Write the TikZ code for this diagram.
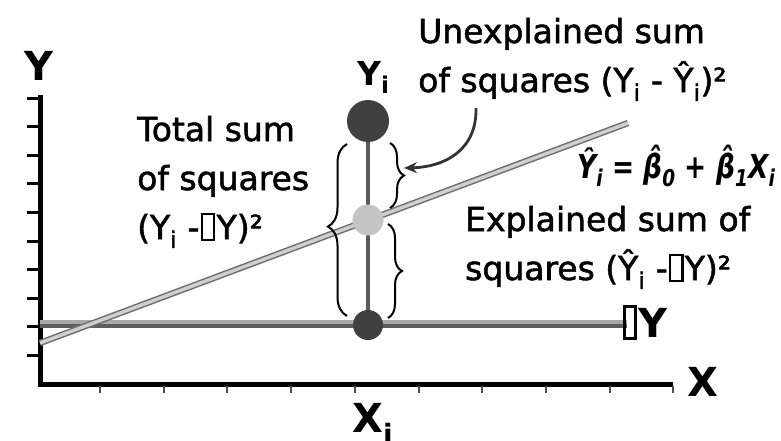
\documentclass[tikz,border=0pt]{standalone}
\usepackage{fontspec}
\usepackage{graphicx}
\setmainfont{DejaVu Sans}
\newfontfamily\bodyfont{DejaVu Sans}[FakeBold=1.6]
\usetikzlibrary{decorations.pathreplacing,arrows.meta}
\definecolor{dotdark}{HTML}{404040}
\definecolor{dotlight}{HTML}{C4C4C4}
\definecolor{stem}{HTML}{5A5A5A}
\definecolor{meanlight}{HTML}{A8A8A8}
\definecolor{meandark}{HTML}{5E5E5E}
\definecolor{regedge}{HTML}{6E6E6E}
\definecolor{regfill}{HTML}{CFCFCF}
\definecolor{arrowcol}{HTML}{333333}
\newcommand\nobox[1][0.3em]{\kern0.04em{\setlength{\fboxsep}{0pt}\setlength{\fboxrule}{0.07em}\fbox{\rule{0pt}{0.72em}\rule{#1}{0pt}}}\kern0.04em}
\begin{document}
\begin{tikzpicture}[x=1pt,y=-1pt,
  body/.style={font=\bodyfont\fontsize{33}{49}\selectfont, align=left, inner sep=0pt, anchor=base west},
  axlab/.style={font=\fontsize{40}{40}\selectfont\bfseries, inner sep=0pt},
  dotnode/.style={circle, fill=#1, draw=none, inner sep=0pt},
  bracestyle/.style={decorate, line width=2, black},
  axis/.style={line width=5, black, line join=miter},
]
\useasboundingbox (0,0) rectangle (781,440);
% coordinates
\coordinate (yTop) at (40,95);
\coordinate (orig) at (40,384);
\coordinate (xEnd) at (673,384);
\coordinate (cTop) at (368,121);
\coordinate (cMid) at (368,220);
\coordinate (cBot) at (368,325);
\coordinate (meanL) at (40,324);
\coordinate (meanR) at (627,324);
\coordinate (regL) at (40,343);
\coordinate (regR) at (628,123);
% axes
\draw[axis] (yTop) -- (orig) -- (xEnd);
\foreach \k in {0,...,9}{
  \draw[line width=3, black] (27,{98+28.6*\k}) -- (40,{98+28.6*\k});
  \draw[line width=2, black!70] ({100+63.7*\k},386) -- ({100+63.7*\k},393);
}
% mean line
\draw[line width=3.5, meanlight, transform canvas={yshift=2pt}] (meanL) -- (meanR);
\draw[line width=4, meandark, transform canvas={yshift=-1.5pt}] (meanL) -- (meanR);
% regression line
\draw[line width=1.5, regedge, double=regfill, double distance=3.4] (regL) -- (regR);
% vertical stem
\draw[line width=4, stem] (cTop) -- (cBot);
% dots
\node[dotnode=dotdark, minimum size=42] (top) at (cTop) {};
\node[dotnode=dotlight, minimum size=31] (mid) at (cMid) {};
\node[dotnode=dotdark, minimum size=30] (bot) at (cBot) {};
% braces
\coordinate (lbB) at (347,316);
\coordinate (lbT) at (347,144);
\draw[bracestyle, decoration={brace, amplitude=19pt, aspect=0.52}] (lbB) -- (lbT);
\coordinate (rbT1) at (390,143);
\coordinate (rbB1) at (390,208);
\draw[bracestyle, decoration={brace, amplitude=14pt, aspect=0.5}] (rbT1) -- (rbB1);
\coordinate (rbT2) at (388,224);
\coordinate (rbB2) at (388,318);
\draw[bracestyle, decoration={brace, amplitude=14pt, aspect=0.5}] (rbT2) -- (rbB2);
% arrow
\coordinate (arS) at (476,108);
\coordinate (arE) at (404,168);
\draw[line width=2.8, arrowcol, -{Stealth[length=13pt,width=11pt]}] (arS) .. controls (477,150) and (445,167) .. (arE);
% labels
\node[axlab] (ylab) at (39,66) {Y};
\node[axlab] (xlab) at (703,382) {X};
\node[axlab, anchor=base west] (xi) at (352,432) {X\textsubscript{i}};
\node[font=\fontsize{33}{33}\selectfont\bfseries, inner sep=0pt, anchor=base west] (yi) at (357,85) {Y\textsubscript{i}};
\node[axlab, anchor=base west] (ybar) at (621,337) {\nobox[0.22em]Y};
\node[body] (total) at (137,239) {Total sum\\of squares\\(Y\textsubscript{i} -\nobox Y)²};
\node[body] (unexp) at (418,92) {Unexplained sum\\of squares (Y\textsubscript{i} - Ŷ\textsubscript{i})²};
\node[body] (expl) at (465,280) {Explained sum of\\squares (Ŷ\textsubscript{i} -\nobox Y)²};
\node[inner sep=0pt, anchor=base west, font=\fontsize{33}{33}\selectfont\bfseries\itshape] (eq) at (577,178)
  {\scalebox{0.8}[1]{Ŷ\textsubscript{i} = β^^^^0302\textsubscript{0} + β^^^^0302\textsubscript{1}X\textsubscript{i}}};
\end{tikzpicture}
\end{document}
